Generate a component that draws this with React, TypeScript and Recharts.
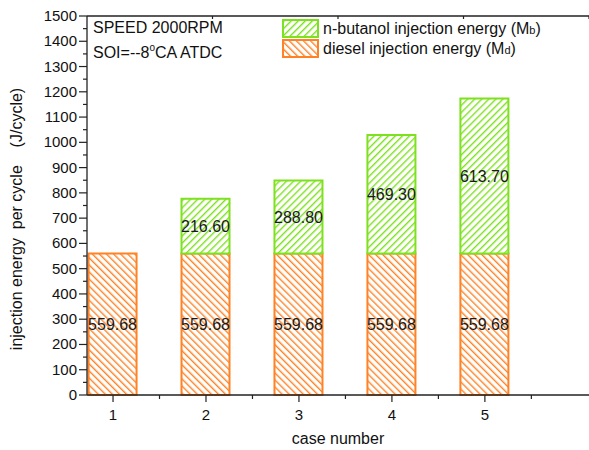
import { BarChart, Bar, XAxis, YAxis, LabelList } from 'recharts'

const ORANGE = '#FF8224'
const GREEN = '#7EE11E'
const FONT = '"Liberation Sans", Arial, sans-serif'

const cases = [1, 2, 3, 4, 5]
const diesel = [559.68, 559.68, 559.68, 559.68, 559.68]
const butanol = [0, 216.6, 288.8, 469.3, 613.7]
const xTicks = [1, 1.5, 2, 2.5, 3, 3.5, 4, 4.5, 5, 5.5]
const topTicks = [1, 2, 3, 4, 5, 6, 7, 8, 9]
const yTicks = Array.from({ length: 31 }, (_, i) => i * 50)

const data = cases.map((c, i) => ({ case: c, diesel: diesel[i], butanol: butanol[i] }))

// eslint-disable-next-line @typescript-eslint/no-explicit-any
function XTick({ x, y, payload }: any) {
  const major = Number.isInteger(payload.value)
  return (
    <g>
      <line x1={x} x2={x} y1={y} y2={y + (major ? 7 : 4)} stroke="#222" strokeWidth={1.2} />
      {major && (
        <text x={x} y={y + 25} textAnchor="middle" fontSize={15} fontFamily={FONT} fill="#111">{payload.value}</text>
      )}
    </g>
  )
}

// eslint-disable-next-line @typescript-eslint/no-explicit-any
function TopTick({ x, y }: any) {
  return <line x1={x} x2={x} y1={y} y2={y + 3} stroke="#222" strokeWidth={1.2} />
}

// eslint-disable-next-line @typescript-eslint/no-explicit-any
function YTick({ x, y, payload }: any) {
  const major = payload.value % 100 === 0
  return (
    <g>
      <line x1={x} x2={x - (major ? 8 : 4)} y1={y} y2={y} stroke="#222" strokeWidth={1.2} />
      {major && (
        <text x={x - 10} y={y + 5} textAnchor="end" fontSize={15} fontFamily={FONT} fill="#111">{payload.value}</text>
      )}
    </g>
  )
}

// eslint-disable-next-line @typescript-eslint/no-explicit-any
function ValueLabel({ x, y, width, height, value }: any) {
  if (!value) return null
  return (
    <text x={x + width / 2} y={y + height / 2 + 6} textAnchor="middle" fontSize={16} fontFamily={FONT} fill="#1a1a1a">
      {Number(value).toFixed(2)}
    </text>
  )
}

export default function App() {
  return (
    <div style={{ position: 'absolute', left: 0, top: 0, width: 589, height: 450, background: '#fff' }}>
      <svg width={0} height={0} style={{ position: 'absolute' }}>
        <defs>
          <pattern id="hatchOrange" width={5} height={5} patternUnits="userSpaceOnUse" patternTransform="rotate(-45)">
            <rect width={5} height={5} fill="#fff" />
            <line x1={0} y1={0} x2={0} y2={5} stroke={ORANGE} strokeWidth={2.8} />
          </pattern>
          <pattern id="hatchGreen" width={5} height={5} patternUnits="userSpaceOnUse" patternTransform="rotate(45)">
            <rect width={5} height={5} fill="#fff" />
            <line x1={0} y1={0} x2={0} y2={5} stroke={GREEN} strokeWidth={2.8} />
          </pattern>
        </defs>
      </svg>
      <BarChart width={589} height={450} data={data} margin={{ top: 15, right: 0, left: 0, bottom: 0 }}>
        <XAxis
          xAxisId="bottom" dataKey="case" type="number" domain={[0.72, 6.12]} ticks={xTicks}
          allowDataOverflow interval={0} height={55} tickSize={0} tickMargin={0}
          tick={<XTick />} axisLine={{ stroke: '#222', strokeWidth: 1.3 }}
        />
        <XAxis
          xAxisId="top" orientation="top" type="number" domain={[0.216, 9.81]} ticks={topTicks}
          allowDataOverflow interval={0} height={1} tickSize={0} tickMargin={0}
          tick={<TopTick />} axisLine={{ stroke: '#222', strokeWidth: 1.3 }}
        />
        <YAxis
          type="number" domain={[0, 1500]} ticks={yTicks} interval={0} width={87}
          tickSize={0} tickMargin={0} tick={<YTick />} axisLine={{ stroke: '#222', strokeWidth: 1.3 }}
        />
        <Bar xAxisId="bottom" dataKey="diesel" stackId="a" barSize={48} fill="url(#hatchOrange)" stroke={ORANGE} strokeWidth={2} isAnimationActive={false}>
          <LabelList dataKey="diesel" content={<ValueLabel />} />
        </Bar>
        <Bar xAxisId="bottom" dataKey="butanol" stackId="a" barSize={48} fill="url(#hatchGreen)" stroke={GREEN} strokeWidth={2} isAnimationActive={false}>
          <LabelList dataKey="butanol" content={<ValueLabel />} />
        </Bar>
      </BarChart>
      <svg width={589} height={450} style={{ position: 'absolute', left: 0, top: 0, pointerEvents: 'none' }}>
        <text x={93} y={33} fontSize={16} fontFamily={FONT} fill="#111">SPEED 2000RPM</text>
        <text x={93} y={58} fontSize={16} fontFamily={FONT} fill="#111">
          SOI=--8<tspan fontSize={10} dy={-7}>o</tspan><tspan dy={7}>CA ATDC</tspan>
        </text>
        <rect x={283} y={20} width={35} height={17} fill="url(#hatchGreen)" stroke={GREEN} strokeWidth={2} />
        <text x={323} y={34} fontSize={16} fontFamily={FONT} fill="#111">
          n-butanol injection energy (M<tspan fontSize={11}>b</tspan>)
        </text>
        <rect x={283} y={40} width={35} height={17} fill="url(#hatchOrange)" stroke={ORANGE} strokeWidth={2} />
        <text x={323} y={54} fontSize={16} fontFamily={FONT} fill="#111">
          diesel injection energy (M<tspan fontSize={11}>d</tspan>)
        </text>
        <text x={22} y={219} transform="rotate(-90 22 219)" textAnchor="middle" fontSize={16} fontFamily={FONT} fill="#111" style={{ whiteSpace: 'pre' }}>
          {'injection energy  per cycle    (J/cycle)'}
        </text>
        <text x={338} y={444} textAnchor="middle" fontSize={16} fontFamily={FONT} fill="#111">case number</text>
      </svg>
    </div>
  )
}
